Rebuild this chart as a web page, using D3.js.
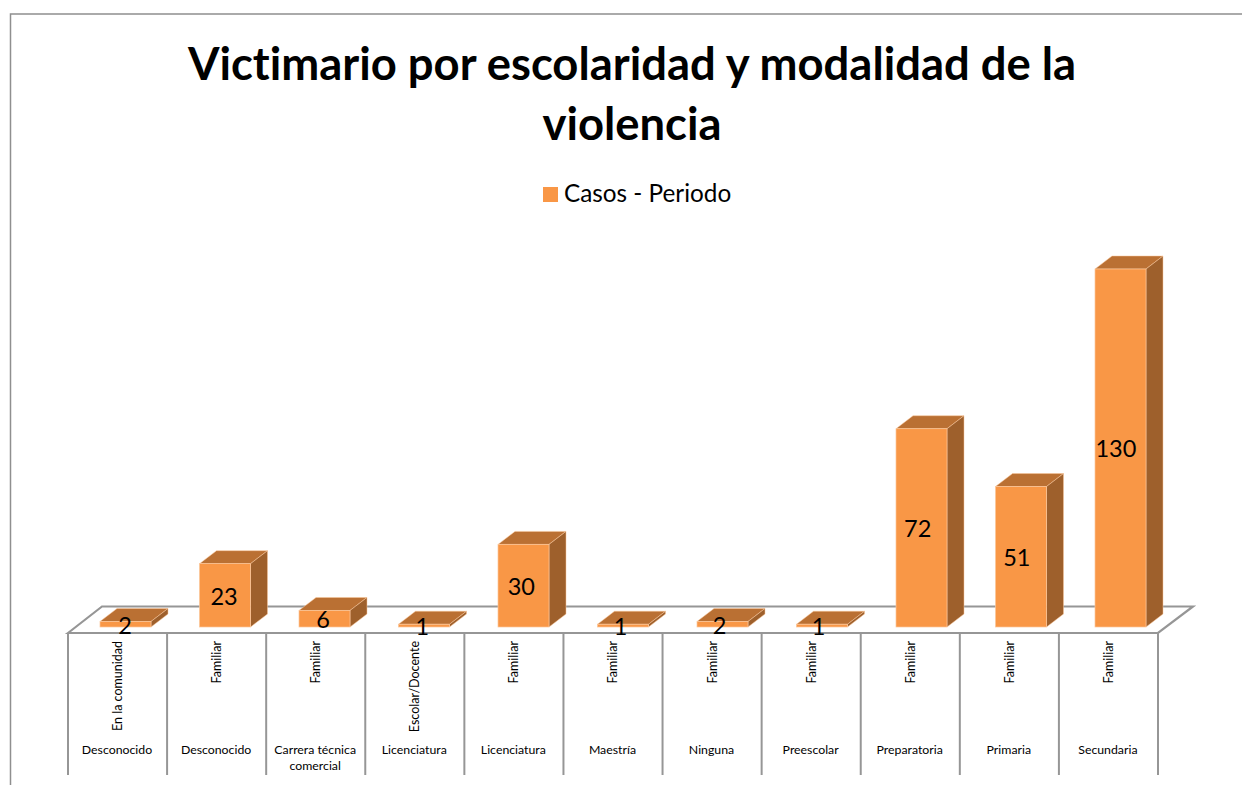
<!DOCTYPE html>
<html><head><meta charset="utf-8">
<script src="https://cdn.jsdelivr.net/npm/d3@7"></script>
<style>html,body{margin:0;padding:0;background:#fff}svg{display:block}text{font-family:Lato,"Open Sans",sans-serif;fill:#000;font-variant-ligatures:none}</style>
</head><body><div id="c"></div>
<script>
const schooling = ["Desconocido","Desconocido","Carrera técnica comercial","Licenciatura","Licenciatura","Maestría","Ninguna","Preescolar","Preparatoria","Primaria","Secundaria"];
const modality = ["En la comunidad","Familiar","Familiar","Escolar/Docente","Familiar","Familiar","Familiar","Familiar","Familiar","Familiar","Familiar"];
const values = [2,23,6,1,30,1,2,1,72,51,130];
const titleLines = ["Victimario por escolaridad y modalidad de la","violencia"];
const legendLabel = "Casos - Periodo";

const W=1242,H=785;
const svg=d3.select("#c").append("svg").attr("width",W).attr("height",H);
const idx=d3.range(values.length);
const x=d3.scaleBand().domain(idx).range([68,1158]).paddingInner(0).paddingOuter(0);
const barX=d3.scaleLinear().domain([0,values.length-1]).range([100,1095]);
const y=d3.scaleLinear().domain([0,130]).range([627,269]);
const barW=51, dx=17, dy=13;
const grey="#969696", front="#F99746", topC="#BA7033", side="#9E602C", edge="#FBC79A";

// frame
svg.append("path").attr("d",`M10.5,785V14H${W}`).attr("fill","none").attr("stroke","#8f8f8f").attr("stroke-width",1.5);

// title
svg.append("g").selectAll("text").data(titleLines).join("text")
 .attr("x",632).attr("y",(d,i)=>80+i*60).attr("text-anchor","middle")
 .attr("font-size",45.4).attr("font-weight",700).text(d=>d);

// legend
svg.append("rect").attr("x",543).attr("y",187).attr("width",15).attr("height",15).attr("fill",front);
svg.append("text").attr("x",564).attr("y",202).attr("font-size",24.3).text(legendLabel);

// floor
const fy=633, by=606.5;
svg.append("path").attr("d",`M${x.range()[0]},${fy}L102,${by}H1193L${x.range()[1]},${fy}Z`)
 .attr("fill","#fff").attr("stroke",grey).attr("stroke-width",2.2).attr("stroke-linejoin","miter");

// separators
svg.append("g").selectAll("line").data(d3.range(values.length+1)).join("line")
 .attr("x1",i=>68+i*x.step()).attr("x2",i=>68+i*x.step()).attr("y1",fy).attr("y2",775)
 .attr("stroke",grey).attr("stroke-width",2);

// bars
const bars=svg.append("g").selectAll("g").data(idx).join("g");
bars.append("path").attr("fill",topC).attr("stroke",edge).attr("stroke-width",.5)
 .attr("d",i=>{const l=barX(i),t=y(values[i]);return `M${l},${t}l${dx},${-dy}h${barW}l${-dx},${dy}Z`;});
bars.append("path").attr("fill",side).attr("stroke",edge).attr("stroke-width",.5)
 .attr("d",i=>{const r=barX(i)+barW,t=y(values[i]),b=y(0);return `M${r},${t}l${dx},${-dy}V${b-dy}L${r},${b}Z`;});
bars.append("rect").attr("x",barX).attr("y",i=>y(values[i])).attr("width",barW)
 .attr("height",i=>y(0)-y(values[i])).attr("fill",front).attr("stroke",edge).attr("stroke-width",.7);

// value labels
svg.append("g").selectAll("text").data(idx).join("text")
 .attr("x",i=>x(i)+57).attr("y",i=>(y(values[i])+y(0))/2+1).attr("dy","0.36em")
 .attr("text-anchor","middle").attr("font-size",23.5).text(i=>values[i]);

// rotated modality labels
svg.append("g").selectAll("text").data(idx).join("text")
 .attr("transform",i=>`translate(${x(i)+54},641) rotate(-90)`)
 .attr("text-anchor","end").attr("font-size",12.5).text(i=>modality[i]);

// schooling labels
const wrap={"Carrera técnica comercial":["Carrera técnica","comercial"]};
svg.append("g").selectAll("text").data(idx).join("text")
 .attr("text-anchor","middle").attr("font-size",12.3)
 .each(function(i){
   const lines=wrap[schooling[i]]||[schooling[i]];
   d3.select(this).selectAll("tspan").data(lines).join("tspan")
    .attr("x",x(i)+49).attr("y",(d,k)=>754+k*16).text(d=>d);
 });
</script></body></html>
